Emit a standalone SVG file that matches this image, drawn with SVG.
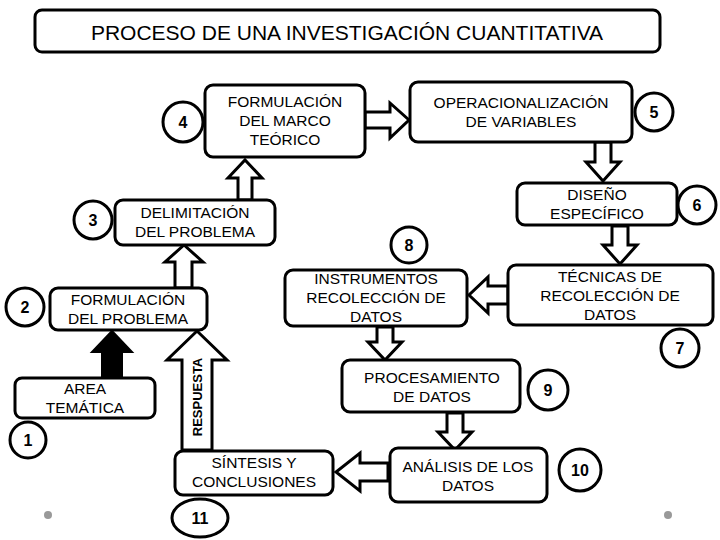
<svg xmlns="http://www.w3.org/2000/svg" width="720" height="540" viewBox="0 0 720 540">
<style>
.b{fill:#fff;stroke:#000;stroke-width:3}
.c{fill:#fff;stroke:#000;stroke-width:3}
.a{fill:#fff;stroke:#000;stroke-width:3;stroke-linejoin:miter}
text{font-family:"Liberation Sans",Arial,sans-serif;font-size:15.5px;text-anchor:middle;fill:#000}
.n{font-weight:bold;font-size:16px}
</style>
<rect width="720" height="540" fill="#fff"/>
<g id="title"><rect class="b" x="35" y="10" width="625" height="42" rx="7"/><text x="347" y="40" style="font-size:21px">PROCESO DE UNA INVESTIGACIÓN CUANTITATIVA</text></g>
<g id="connectors">
<polygon class="a" points="238,200 238,178 228,178 245,160 262,178 252,178 252,200"/>
<polygon class="a" points="365,112 390,112 390,103 409,120 390,138 390,128 365,128"/>
<polygon class="a" points="595,142 611,142 611,162 620,162 603,181 586,162 595,162"/>
<polygon class="a" points="612,226 628,226 628,245 637,245 620,264 603,245 612,245"/>
<polygon class="a" points="508,286 488,286 488,277 469,295 488,313 488,304 508,304"/>
<polygon class="a" points="377,327 393,327 393,342 402,342 385,360 368,342 377,342"/>
<polygon class="a" points="447,413 463,413 463,432 472,432 455,450 438,432 447,432"/>
<polygon class="a" points="388,463 360,463 360,453 336,472 360,491 360,481 388,481"/>
<polygon class="a" points="182,450 182,360 167,360 197,331 227,360 212,360 212,450"/>
<text transform="translate(202,397) rotate(-90)" style="font-size:13px;font-weight:bold">RESPUESTA</text>
<polygon fill="#000" stroke="#000" stroke-width="2" points="102,378 102,352 92,352 112,331 132,352 122,352 122,378"/>
<polygon class="a" points="175,288 175,262 165,262 184,245 203,262 192,262 192,288"/>
</g>
<g id="n4"><circle class="c" cx="183" cy="122" r="20"/><text class="n" x="183" y="128">4</text></g>
<g id="marco"><rect class="b" x="205" y="85" width="160" height="72" rx="8"/><text x="285" y="107">FORMULACIÓN</text><text x="285" y="126">DEL MARCO</text><text x="285" y="145">TEÓRICO</text></g>
<g id="oper"><rect class="b" x="410" y="82" width="222" height="60" rx="8"/><text x="521" y="108">OPERACIONALIZACIÓN</text><text x="521" y="127">DE VARIABLES</text></g>
<g id="n5"><circle class="c" cx="654" cy="112" r="19"/><text class="n" x="654" y="118">5</text></g>
<g id="diseno"><rect class="b" x="517" y="183" width="160" height="42" rx="8"/><text x="597" y="200">DISEÑO</text><text x="597" y="219">ESPECÍFICO</text></g>
<g id="n6"><circle class="c" cx="697" cy="205" r="19"/><text class="n" x="697" y="211">6</text></g>
<g id="n3"><circle class="c" cx="93" cy="220" r="19"/><text class="n" x="93" y="226">3</text></g>
<g id="delim"><rect class="b" x="115" y="200" width="160" height="45" rx="8"/><text x="195" y="218">DELIMITACIÓN</text><text x="195" y="237">DEL PROBLEMA</text></g>
<g id="n8"><circle class="c" cx="409" cy="245" r="18"/><text class="n" x="409" y="251">8</text></g>
<g id="instr"><rect class="b" x="285" y="270" width="182" height="56" rx="8"/><text x="376" y="284">INSTRUMENTOS</text><text x="376" y="303">RECOLECCIÓN DE</text><text x="376" y="322">DATOS</text></g>
<g id="tecn"><rect class="b" x="508" y="265" width="205" height="60" rx="8"/><text x="610" y="282">TÉCNICAS DE</text><text x="610" y="301">RECOLECCIÓN DE</text><text x="610" y="320">DATOS</text></g>
<g id="n7"><circle class="c" cx="680" cy="348" r="19"/><text class="n" x="680" y="354">7</text></g>
<g id="n2"><circle class="c" cx="25" cy="307" r="19"/><text class="n" x="25" y="313">2</text></g>
<g id="formprob"><rect class="b" x="50" y="288" width="157" height="42" rx="8"/><text x="128" y="305">FORMULACIÓN</text><text x="128" y="324">DEL PROBLEMA</text></g>
<g id="area"><rect class="b" x="15" y="378" width="140" height="40" rx="7"/><text x="85" y="394">AREA</text><text x="85" y="413">TEMÁTICA</text></g>
<g id="n1"><circle class="c" cx="28" cy="440" r="18"/><text class="n" x="28" y="446">1</text></g>
<g id="proc"><rect class="b" x="342" y="360" width="178" height="52" rx="8"/><text x="432" y="383">PROCESAMIENTO</text><text x="432" y="402">DE DATOS</text></g>
<g id="n9"><circle class="c" cx="548" cy="390" r="20"/><text class="n" x="548" y="396">9</text></g>
<g id="anal"><rect class="b" x="390" y="448" width="157" height="54" rx="8"/><text x="468" y="472">ANÁLISIS DE LOS</text><text x="468" y="491">DATOS</text></g>
<g id="n10"><circle class="c" cx="580" cy="470" r="21"/><text class="n" x="580" y="476">10</text></g>
<g id="sint"><rect class="b" x="175" y="451" width="158" height="44" rx="8"/><text x="254" y="468">SÍNTESIS Y</text><text x="254" y="487">CONCLUSIONES</text></g>
<g id="n11"><ellipse class="c" cx="200" cy="518" rx="28" ry="19"/><text class="n" x="200" y="524">11</text></g>
<circle cx="48" cy="515" r="4" fill="#999"/>
<circle cx="668" cy="515" r="4" fill="#999"/>
</svg>
